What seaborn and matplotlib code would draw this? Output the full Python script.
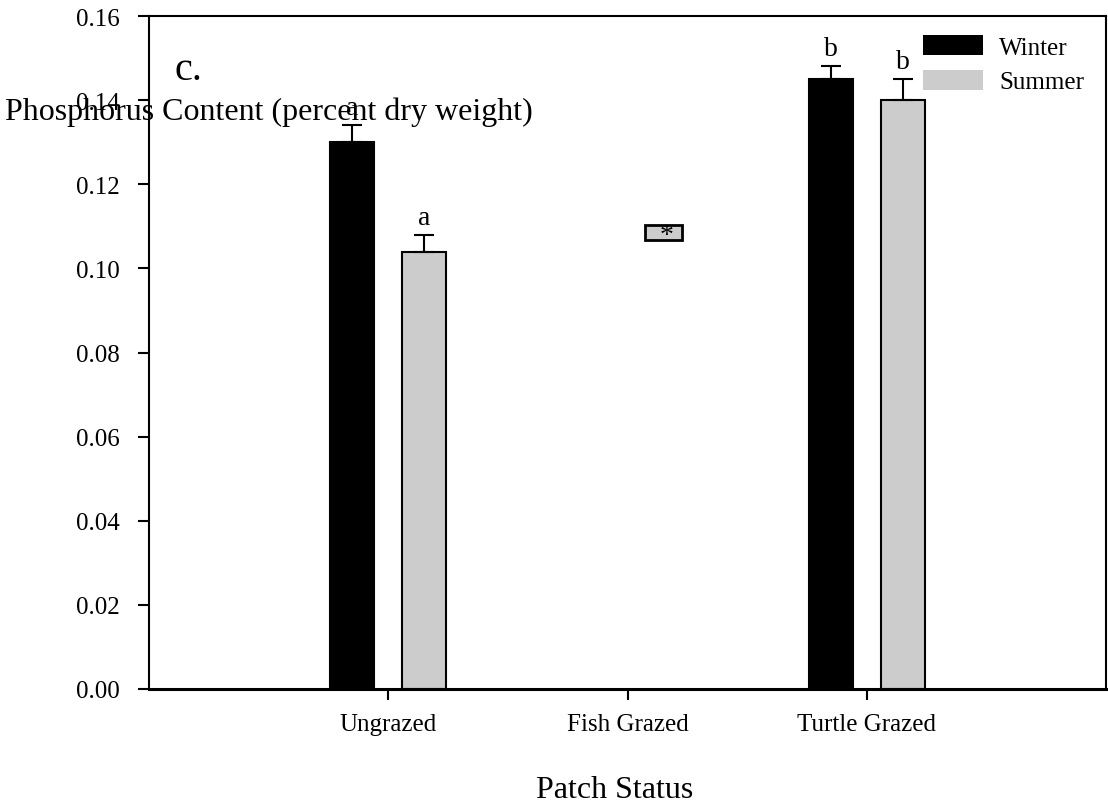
import numpy as np
import pandas as pd
import matplotlib
matplotlib.use("Agg")
import matplotlib.pyplot as plt
import seaborn as sns

# ---- data ----
categories = ["Ungrazed", "Fish Grazed", "Turtle Grazed"]
seasons = ["Winter", "Summer"]
bar_categories = ["Ungrazed", "Turtle Grazed"]
winter_values = [0.130, 0.145]
summer_values = [0.104, 0.140]
winter_err = [0.004, 0.003]
summer_err = [0.004, 0.005]
winter_letters = ["a", "b"]
summer_letters = ["a", "b"]
fish_low = 0.1067
fish_high = 0.1103
y_ticks = [0.00, 0.02, 0.04, 0.06, 0.08, 0.10, 0.12, 0.14, 0.16]

df = pd.DataFrame({
    "Patch Status": bar_categories * 2,
    "Season": ["Winter"] * len(bar_categories) + ["Summer"] * len(bar_categories),
    "value": winter_values + summer_values,
})

sns.set_style("ticks")
plt.rcParams["font.family"] = ["Liberation Serif", "DejaVu Serif"]
plt.rcParams["text.color"] = "black"
plt.rcParams["axes.labelcolor"] = "black"
plt.rcParams["xtick.color"] = "black"
plt.rcParams["ytick.color"] = "black"

fig = plt.figure(figsize=(11.08, 8.03), dpi=100)
ax = fig.add_axes([149 / 1108, 1 - 690 / 803, 957 / 1108, 673 / 803])

palette = {"Winter": "black", "Summer": "#cccccc"}
sns.barplot(data=df, x="Patch Status", y="value", hue="Season",
            order=categories, hue_order=seasons, palette=palette,
            width=0.604, gap=0.39, edgecolor="black", linewidth=1.5,
            errorbar=None, ax=ax, legend=True)

errs = {"Winter": winter_err, "Summer": summer_err}
letters = {"Winter": winter_letters, "Summer": summer_letters}
summer_offset = None
for cont, season in zip(ax.containers, seasons):
    bars = [b for b in cont.patches if np.isfinite(b.get_height()) and b.get_height() > 0]
    for b, e, lt in zip(bars, errs[season], letters[season]):
        xc = b.get_x() + b.get_width() / 2
        top = b.get_height()
        ax.errorbar([xc], [top], yerr=[[0], [e]], fmt="none", ecolor="black",
                    elinewidth=1.5, capsize=7.2, capthick=1.5, zorder=3)
        ax.annotate(lt, (xc, top + e), xytext=(0, 8), textcoords="offset points",
                    ha="center", va="baseline", fontsize=20)
        if season == "Summer" and summer_offset is None:
            summer_offset = xc - categories.index(bar_categories[0])

# Fish grazed marker box with asterisk (summer position)
fx = categories.index("Fish Grazed") + summer_offset
ax.bar([fx], [fish_high - fish_low], bottom=fish_low, width=0.155,
       color="#cccccc", edgecolor="black", linewidth=2, zorder=3)
ax.annotate("*", (fx, (fish_low + fish_high) / 2), xytext=(2, -7),
            textcoords="offset points", ha="center", va="baseline", fontsize=20, zorder=4)

ax.set_xlim(-1, 3)
ax.set_ylim(0, 0.16)
ax.set_yticks(y_ticks)
ax.set_yticklabels([f"{v:.2f}" for v in y_ticks])
ax.tick_params(axis="both", direction="out", length=8, width=1.5, labelsize=18)
ax.tick_params(axis="y", pad=13)
ax.tick_params(axis="x", pad=9)

for s in ["left", "top", "right"]:
    ax.spines[s].set_visible(True)
    ax.spines[s].set_linewidth(1.5)
    ax.spines[s].set_color("black")
ax.spines["bottom"].set_linewidth(2.2)
ax.spines["bottom"].set_color("black")

ax.set_xlabel("Patch Status", fontsize=23, va="baseline", ha="center")
ax.xaxis.set_label_coords((615 - 149) / 957, (690 - 798) / 673)
ax.set_ylabel("Phosphorus Content (percent dry weight)", fontsize=23,
              rotation=0, ha="left", va="baseline")
ax.yaxis.set_label_coords((5 - 149) / 957, (690 - 120) / 673)

ax.text((175 - 149) / 957, (690 - 80) / 673, "c.", transform=ax.transAxes,
        fontsize=29, va="baseline", ha="left")

handles, labels = ax.get_legend_handles_labels()
for h in handles:
    h.set_edgecolor("none")
ax.legend(handles, labels, loc="upper left", frameon=False, fontsize=18,
          bbox_to_anchor=((923 - 149) / 957, (690 - 36) / 673), borderpad=0,
          borderaxespad=0, handlelength=2.4, handleheight=0.85,
          handletextpad=0.64, labelspacing=0.44)

fig.savefig("out.png", dpi=100)
